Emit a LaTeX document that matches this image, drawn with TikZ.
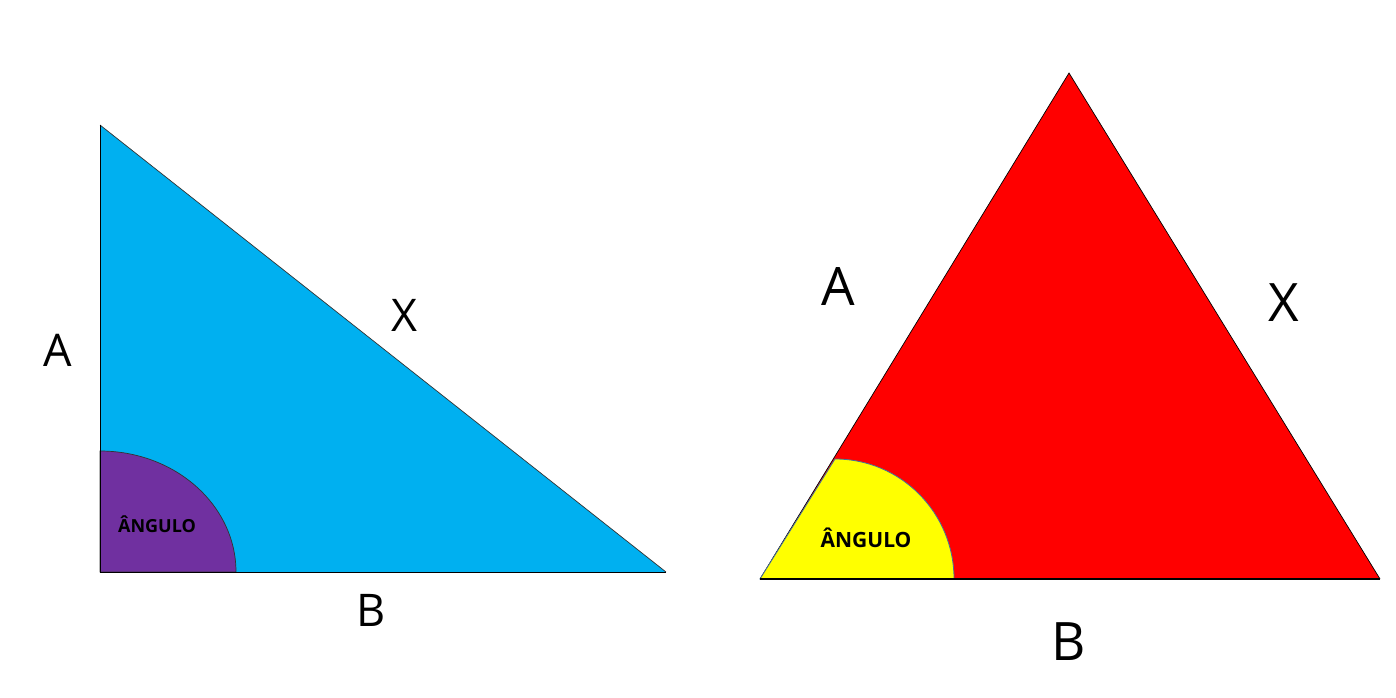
\documentclass[tikz,border=0pt]{standalone}
\usepackage{fontspec}
\setmainfont{Open Sans}
\definecolor{cyanfill}{HTML}{00B0F0}
\definecolor{purplefill}{HTML}{7030A0}
\definecolor{redfill}{HTML}{FF0000}
\definecolor{yellowfill}{HTML}{FFFF00}
\definecolor{edgeblue}{HTML}{41719C}
\begin{document}
\begin{tikzpicture}[x=1pt,y=-1pt,
  lbl/.style={font=\fontsize{45}{50}\selectfont, inner sep=0pt},
  lblbig/.style={font=\fontsize{53}{58}\selectfont, inner sep=0pt},
  ang/.style={font=\fontsize{18}{20}\selectfont\bfseries, inner sep=0pt},
  angbig/.style={font=\fontsize{21}{24}\selectfont\bfseries, inner sep=0pt}]
\useasboundingbox (0,0) rectangle (1396,698);
% left triangle
\coordinate (L1) at (100,125);
\coordinate (L2) at (100,572);
\coordinate (L3) at (666,572);
\fill[cyanfill] (L1) -- (L2) -- (L3) -- cycle;
\draw[black!80, line width=0.7pt] (L1) -- (L3);
\filldraw[fill=purplefill, draw=black!80, line width=0.7pt]
  (L2) -- (100,451) arc[start angle=90, end angle=0, x radius=136, y radius=-121] -- cycle;
\draw[black, line width=1pt] (L1) -- (L2) -- (L3);
\node[ang] (angL) at (157,524) {ÂNGULO};
\node[lbl] (aL) at (58,350) {A};
\node[lbl] (xL) at (404,315) {X};
\node[lbl] (bL) at (371,610) {B};
% right triangle
\coordinate (R1) at (760,579);
\coordinate (R2) at (1069,73);
\coordinate (R3) at (1380,579);
\fill[redfill] (R1) -- (R2) -- (R3) -- cycle;
\draw[black, line width=0.7pt] (R1) -- (R2) -- (R3);
\filldraw[fill=yellowfill, draw=edgeblue, line width=0.8pt]
  (R1) -- (835,459) arc[start angle=90, end angle=0, x radius=119, y radius=-120] -- cycle;
\draw[black, line width=1.6pt] (R1) -- (R3);
\node[angbig] (angR) at (866,538) {ÂNGULO};
\node[lblbig] (aR) at (838,287) {A};
\node[lblbig] (xR) at (1284,303) {X};
\node[lblbig] (bR) at (1069,642) {B};
\end{tikzpicture}
\end{document}
